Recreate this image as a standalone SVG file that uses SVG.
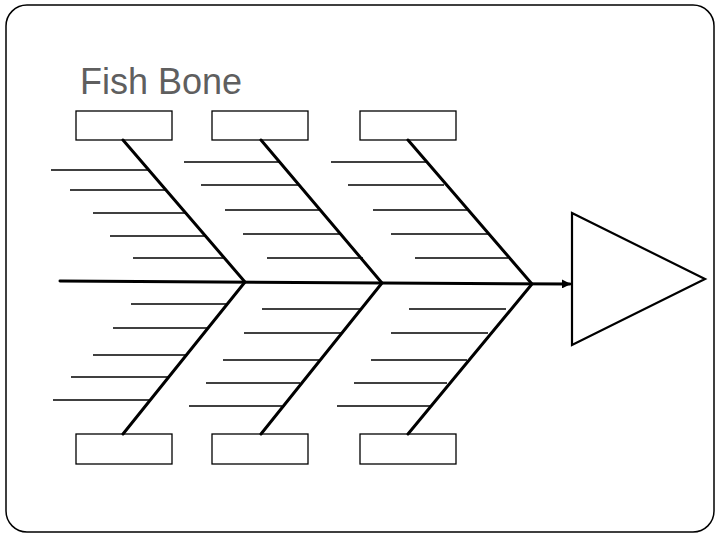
<svg xmlns="http://www.w3.org/2000/svg" width="720" height="540" viewBox="0 0 720 540">
<style>
.box{fill:#fff;stroke:#000;stroke-width:1.3}
.bone{stroke:#000;stroke-width:3;fill:none;stroke-linecap:round}
.rib{stroke:#000;stroke-width:1.3}
.title{font-family:"Liberation Sans",Arial,sans-serif;font-size:36px;fill:#5f5f5f}
</style>
<defs>
<marker id="arr" viewBox="0 0 10 10" refX="9" refY="5" markerWidth="3" markerHeight="3" orient="auto" markerUnits="strokeWidth">
<path d="M0,0 L10,5 L0,10 z" fill="#000"/>
</marker>
</defs>
<rect x="6" y="5" width="708" height="527" rx="21" ry="21" fill="#fff" stroke="#000" stroke-width="1.5"/>
<g id="title"><text class="title" x="80" y="94">Fish Bone</text></g>
<g id="box-top-1"><rect class="box" x="76" y="111" width="96" height="29"/></g>
<g id="box-top-2"><rect class="box" x="212" y="111" width="96" height="29"/></g>
<g id="box-top-3"><rect class="box" x="360" y="111" width="96" height="29"/></g>
<g id="box-bottom-1"><rect class="box" x="76" y="434" width="96" height="30"/></g>
<g id="box-bottom-2"><rect class="box" x="212" y="434" width="96" height="30"/></g>
<g id="box-bottom-3"><rect class="box" x="360" y="434" width="96" height="30"/></g>
<g id="head"><polygon points="572,213 705,279 572,345" fill="#fff" stroke="#000" stroke-width="2.2"/></g>
<g id="connectors">
<line class="bone" x1="60" y1="281" x2="570" y2="284" marker-end="url(#arr)"/>
<polyline class="bone" points="123,140 245,282 123,434"/>
<polyline class="bone" points="261,140 382,283 261,434"/>
<polyline class="bone" points="408,140 532,284 408,434"/>
<g class="ribs">
<line class="rib" x1="51" y1="170" x2="148" y2="170"/>
<line class="rib" x1="70" y1="190" x2="165" y2="190"/>
<line class="rib" x1="93" y1="213" x2="187" y2="213"/>
<line class="rib" x1="110" y1="236" x2="206" y2="236"/>
<line class="rib" x1="133" y1="258" x2="225" y2="258"/>
<line class="rib" x1="184" y1="162" x2="279" y2="162"/>
<line class="rib" x1="201" y1="185" x2="298" y2="185"/>
<line class="rib" x1="225" y1="210" x2="320" y2="210"/>
<line class="rib" x1="243" y1="234" x2="340" y2="234"/>
<line class="rib" x1="267" y1="258" x2="363" y2="258"/>
<line class="rib" x1="331" y1="162" x2="426" y2="162"/>
<line class="rib" x1="348" y1="185" x2="444" y2="185"/>
<line class="rib" x1="373" y1="210" x2="467" y2="210"/>
<line class="rib" x1="391" y1="234" x2="488" y2="234"/>
<line class="rib" x1="415" y1="258" x2="508" y2="258"/>
<line class="rib" x1="131" y1="304" x2="227" y2="304"/>
<line class="rib" x1="113" y1="328" x2="208" y2="328"/>
<line class="rib" x1="93" y1="355" x2="187" y2="355"/>
<line class="rib" x1="71" y1="377" x2="169" y2="377"/>
<line class="rib" x1="53" y1="400" x2="150" y2="400"/>
<line class="rib" x1="262" y1="309" x2="360" y2="309"/>
<line class="rib" x1="244" y1="333" x2="342" y2="333"/>
<line class="rib" x1="223" y1="360" x2="320" y2="360"/>
<line class="rib" x1="206" y1="383" x2="300" y2="383"/>
<line class="rib" x1="189" y1="406" x2="282" y2="406"/>
<line class="rib" x1="409" y1="309" x2="506" y2="309"/>
<line class="rib" x1="391" y1="333" x2="488" y2="333"/>
<line class="rib" x1="371" y1="360" x2="467" y2="360"/>
<line class="rib" x1="354" y1="383" x2="447" y2="383"/>
<line class="rib" x1="337" y1="406" x2="431" y2="406"/>
</g>
</g>
</svg>
